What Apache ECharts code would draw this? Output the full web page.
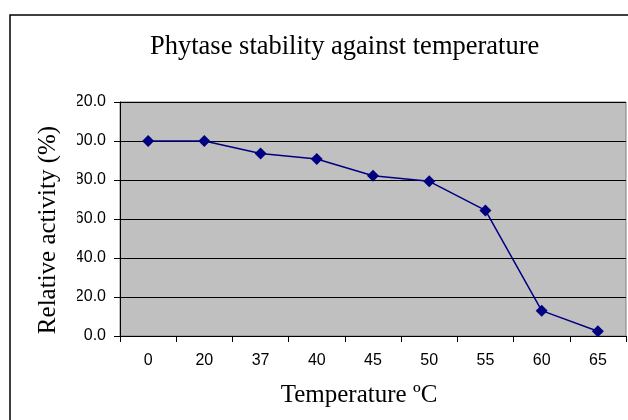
<!DOCTYPE html>
<html>
<head>
<meta charset="utf-8">
<script src="https://cdn.jsdelivr.net/npm/echarts@6/dist/echarts.min.js"></script>
<style>html,body{margin:0;padding:0;background:#fff}#c{width:628px;height:420px}</style>
</head>
<body>
<div id="c"></div>
<script>
const temperatures = ['0', '20', '37', '40', '45', '50', '55', '60', '65'];
const activity = [100.0, 100.0, 93.6, 90.8, 82.2, 79.3, 64.4, 13.0, 2.4];
const yTicks = { min: 0, max: 120, interval: 20 };

const chart = echarts.init(document.getElementById('c'));
chart.setOption({
  animation: false,
  backgroundColor: '#fff',
  title: {
    text: 'Phytase stability against temperature',
    left: 145, top: 29,
    textStyle: { fontFamily: 'Liberation Serif', fontWeight: 'normal', fontSize: 26.5, color: '#000' }
  },
  graphic: [{
    type: 'rect', shape: { x: 10, y: 15, width: 700, height: 500 },
    style: { fill: 'none', stroke: '#000', lineWidth: 1.5 }, z: -1
  }, {
    // white strip of the axis-title box that hides the left part of the tick labels
    type: 'rect', shape: { x: 60, y: 92, width: 17, height: 252 },
    style: { fill: '#fff' }, z: 100
  }],
  grid: {
    left: 120, right: 2, top: 102, bottom: 84,
    show: true, backgroundColor: '#c0c0c0', borderColor: '#808080', borderWidth: 1
  },
  xAxis: {
    type: 'category', data: temperatures, boundaryGap: true,
    name: 'Temperature ºC', nameLocation: 'middle', nameGap: 45, nameMoveOverlap: false,
    nameTextStyle: { fontFamily: 'Liberation Serif', fontSize: 25, color: '#000',
      lineHeight: 28, padding: [0, 28, 0, 0] },
    axisLine: { lineStyle: { color: '#000', width: 1 } },
    axisTick: { show: true, length: 6, lineStyle: { color: '#000' } },
    axisLabel: { margin: 17, fontFamily: 'Liberation Sans', fontSize: 16, color: '#000' },
    splitLine: { show: false }
  },
  yAxis: {
    type: 'value', min: yTicks.min, max: yTicks.max, interval: yTicks.interval,
    name: 'Relative activity (%)', nameLocation: 'middle', nameGap: 46, nameMoveOverlap: false,
    nameTextStyle: { fontFamily: 'Liberation Serif', fontSize: 25, color: '#000',
      padding: [4, 22, 11, 0], lineHeight: 30 },
    axisLine: { show: true, lineStyle: { color: '#000', width: 1 } },
    axisTick: { show: true, length: 6, lineStyle: { color: '#000' } },
    axisLabel: { margin: 14, fontFamily: 'Liberation Sans', fontSize: 16, color: '#000',
      formatter: v => v.toFixed(1) },
    splitLine: { show: true, lineStyle: { color: '#000', width: 1 } }
  },
  series: [{
    type: 'line', data: activity,
    symbol: 'diamond', symbolSize: 12,
    itemStyle: { color: '#000080' },
    lineStyle: { color: '#000080', width: 1.5 }
  }]
});
</script>
</body>
</html>
